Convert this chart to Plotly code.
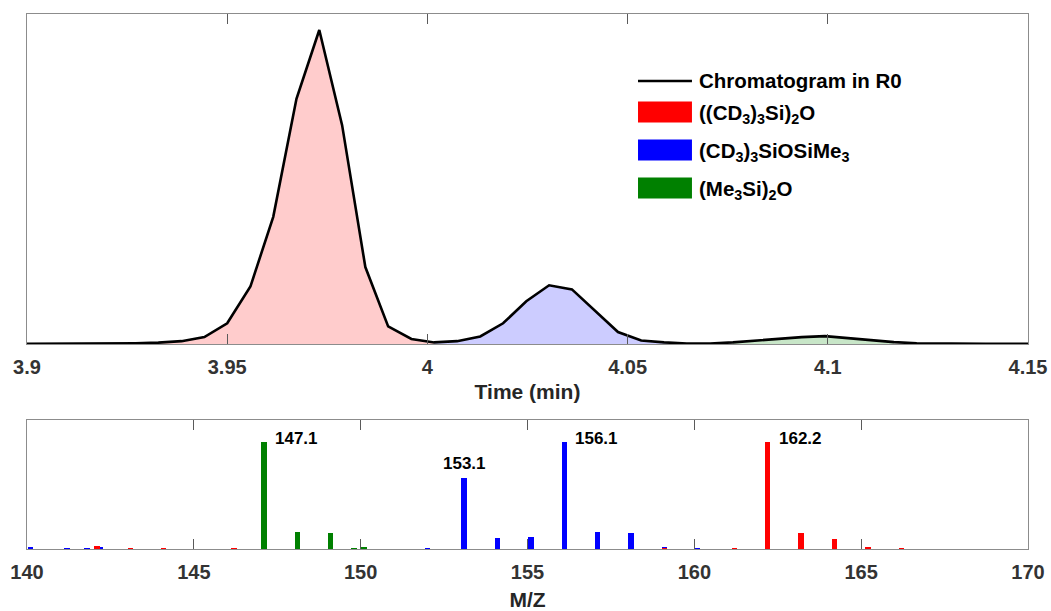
import plotly.graph_objects as go

# ---- chromatogram (total ion current, arbitrary units) ----
time_min = [3.9000, 3.9041, 3.9099, 3.9156, 3.9213, 3.9271, 3.9328, 3.9386, 3.9443,
            3.9500, 3.9558, 3.9615, 3.9673, 3.9730, 3.9787, 3.9845, 3.9902, 3.9960,
            4.0017, 4.0074, 4.0132, 4.0189, 4.0247, 4.0304, 4.0361, 4.0419, 4.0476,
            4.0534, 4.0591, 4.0648, 4.0706, 4.0763, 4.0821, 4.0878, 4.0935, 4.0993,
            4.1050, 4.1108, 4.1165, 4.1222, 4.1280, 4.1337, 4.1394, 4.1452, 4.1500]
intensity = [0.05, 0.05, 0.08, 0.10, 0.15, 0.25, 0.45, 0.90, 2.2,
             6.6, 18.3, 40.5, 78.1, 100.0, 69.7, 24.5, 5.6, 1.6,
             0.5, 0.9, 2.4, 6.6, 13.6, 18.7, 17.4, 10.7, 3.8,
             1.1, 0.5, 0.15, 0.15, 0.5, 1.1, 1.75, 2.2, 2.5,
             1.9, 1.1, 0.6, 0.2, 0.1, 0.05, 0.05, 0.05, 0.05]

# elution windows of the three siloxanes (min)
compounds = ["((CD<sub>3</sub>)<sub>3</sub>Si)<sub>2</sub>O",
             "(CD<sub>3</sub>)<sub>3</sub>SiOSiMe<sub>3</sub>",
             "(Me<sub>3</sub>Si)<sub>2</sub>O"]
window_start = [3.9271, 4.0017, 4.0763]
window_end = [4.0017, 4.0648, 4.1165]
line_colors = ["#ff0000", "#0000ff", "#008000"]
fill_colors = ["#ffcccc", "#ccccff", "#c8e6c8"]

# ---- mass spectra (relative abundance) ----
ms_red_mz = [142.1, 143.1, 144.1, 146.2, 159.1, 161.2, 162.2, 163.2, 164.2, 165.2, 166.2]
ms_red_int = [2.5, 0.5, 0.5, 0.8, 0.8, 0.4, 100, 15.2, 9.0, 1.0, 0.4]
ms_blue_mz = [140.1, 141.2, 141.8, 142.2, 152.0, 153.1, 154.1, 155.1, 156.1, 157.1, 158.1, 159.1, 160.1]
ms_blue_int = [1.0, 0.3, 0.3, 1.0, 0.3, 66.3, 10.5, 11.2, 100, 16.1, 14.6, 1.0, 0.6]
ms_green_mz = [147.1, 148.1, 149.1, 149.8, 150.1]
ms_green_int = [100, 15.8, 14.6, 0.8, 1.4]
labelled_peaks = [(147.1, 100), (153.1, 66.3), (156.1, 100), (162.2, 100)]

time_ticks = [3.9, 3.95, 4.0, 4.05, 4.1, 4.15]
time_ticktext = ["3.9", "3.95", "4", "4.05", "4.1", "4.15"]
mz_ticks = [140, 145, 150, 155, 160, 165, 170]

FONT = "Liberation Sans"
fig = go.Figure()

# shaded regions under the chromatogram, one per compound
for name, t0, t1, fc in zip(compounds, window_start, window_end, fill_colors):
    xs = [t for t in time_min if t0 - 1e-9 <= t <= t1 + 1e-9]
    ys = [v for t, v in zip(time_min, intensity) if t0 - 1e-9 <= t <= t1 + 1e-9]
    fig.add_trace(go.Scatter(x=xs, y=ys, mode="lines", line=dict(width=0),
                             fill="tozeroy", fillcolor=fc, showlegend=False,
                             hoverinfo="skip", xaxis="x", yaxis="y"))

fig.add_trace(go.Scatter(x=time_min, y=intensity, mode="lines",
                         line=dict(color="black", width=2.6),
                         name="Chromatogram in R0", showlegend=False,
                         xaxis="x", yaxis="y"))

# spectra
for mz, ab, col in [(ms_green_mz, ms_green_int, "#008000"),
                    (ms_blue_mz, ms_blue_int, "#0000ff"),
                    (ms_red_mz, ms_red_int, "#ff0000")]:
    fig.add_trace(go.Bar(x=mz, y=ab, width=0.16, marker=dict(color=col, line=dict(width=0)),
                         showlegend=False, xaxis="x2", yaxis="y2"))

label_font = dict(family=FONT, size=17, color="black", weight="bold")
annotations = []
for mz, ab in labelled_peaks:
    if mz == 153.1:
        annotations.append(dict(x=mz, y=ab, xref="x2", yref="y2", text=f"{mz:.1f}",
                                showarrow=False, xanchor="center", yanchor="bottom",
                                yshift=3, font=label_font))
    else:
        annotations.append(dict(x=mz, y=ab, xref="x2", yref="y2", text=f"{mz:.1f}",
                                showarrow=False, xanchor="left", yanchor="middle",
                                xshift=9, yshift=3, font=label_font))

# hand-built legend in the top panel
shapes = [dict(type="line", xref="paper", yref="paper", x0=0.6104, x1=0.6643,
               y0=0.8748, y1=0.8748, line=dict(color="black", width=2.6))]
legend_y = [0.8168, 0.7458, 0.6748]
for yc, col in zip(legend_y, line_colors):
    shapes.append(dict(type="rect", xref="paper", yref="paper", x0=0.6104, x1=0.6643,
                       y0=yc - 0.0197, y1=yc + 0.0197, fillcolor=col, line=dict(width=0)))
legend_labels = ["Chromatogram in R0"] + compounds
for yc, txt in zip([0.8748] + legend_y, legend_labels):
    annotations.append(dict(x=0.6693, y=yc, xref="paper", yref="paper", text=txt,
                            showarrow=False, xanchor="left", yanchor="middle",
                            yshift=-2 if "<sub>" in txt else 0,
                            font=dict(family=FONT, size=20.5, color="black", weight="bold")))

axis_common = dict(showline=True, linecolor="#8c8c8c", linewidth=1, mirror="ticks",
                   ticks="inside", ticklen=10, tickcolor="#5a5a5a", tickwidth=1,
                   showgrid=False, zeroline=False, automargin=False,
                   ticklabelstandoff=5,
                   tickfont=dict(family=FONT, size=20, color="#333333", weight="bold"))
yaxis_common = dict(showline=True, linecolor="#8c8c8c", linewidth=1, mirror=True,
                    ticks="", showticklabels=False, showgrid=False, zeroline=False,
                    automargin=False)
title_font = dict(family=FONT, size=21, color="#262626", weight="bold")

fig.update_layout(
    width=1051, height=611,
    margin=dict(l=27, r=23, t=14, b=62),
    paper_bgcolor="white", plot_bgcolor="white",
    bargap=0, barmode="overlay",
    xaxis=dict(domain=[0, 1], range=[3.9, 4.15], anchor="y",
               tickvals=time_ticks, ticktext=time_ticktext,
               title=dict(text="Time (min)", standoff=7, font=title_font),
               **axis_common),
    yaxis=dict(domain=[0.3832, 1], range=[0, 105.1], anchor="x", **yaxis_common),
    xaxis2=dict(domain=[0, 1], range=[140, 170], anchor="y2", tickvals=mz_ticks,
                title=dict(text="M/Z", standoff=12, font=title_font),
                **axis_common),
    yaxis2=dict(domain=[0, 0.2411], range=[0, 120.5], anchor="x2", **yaxis_common),
    shapes=shapes,
    annotations=annotations,
)

fig.write_html("out.html")
